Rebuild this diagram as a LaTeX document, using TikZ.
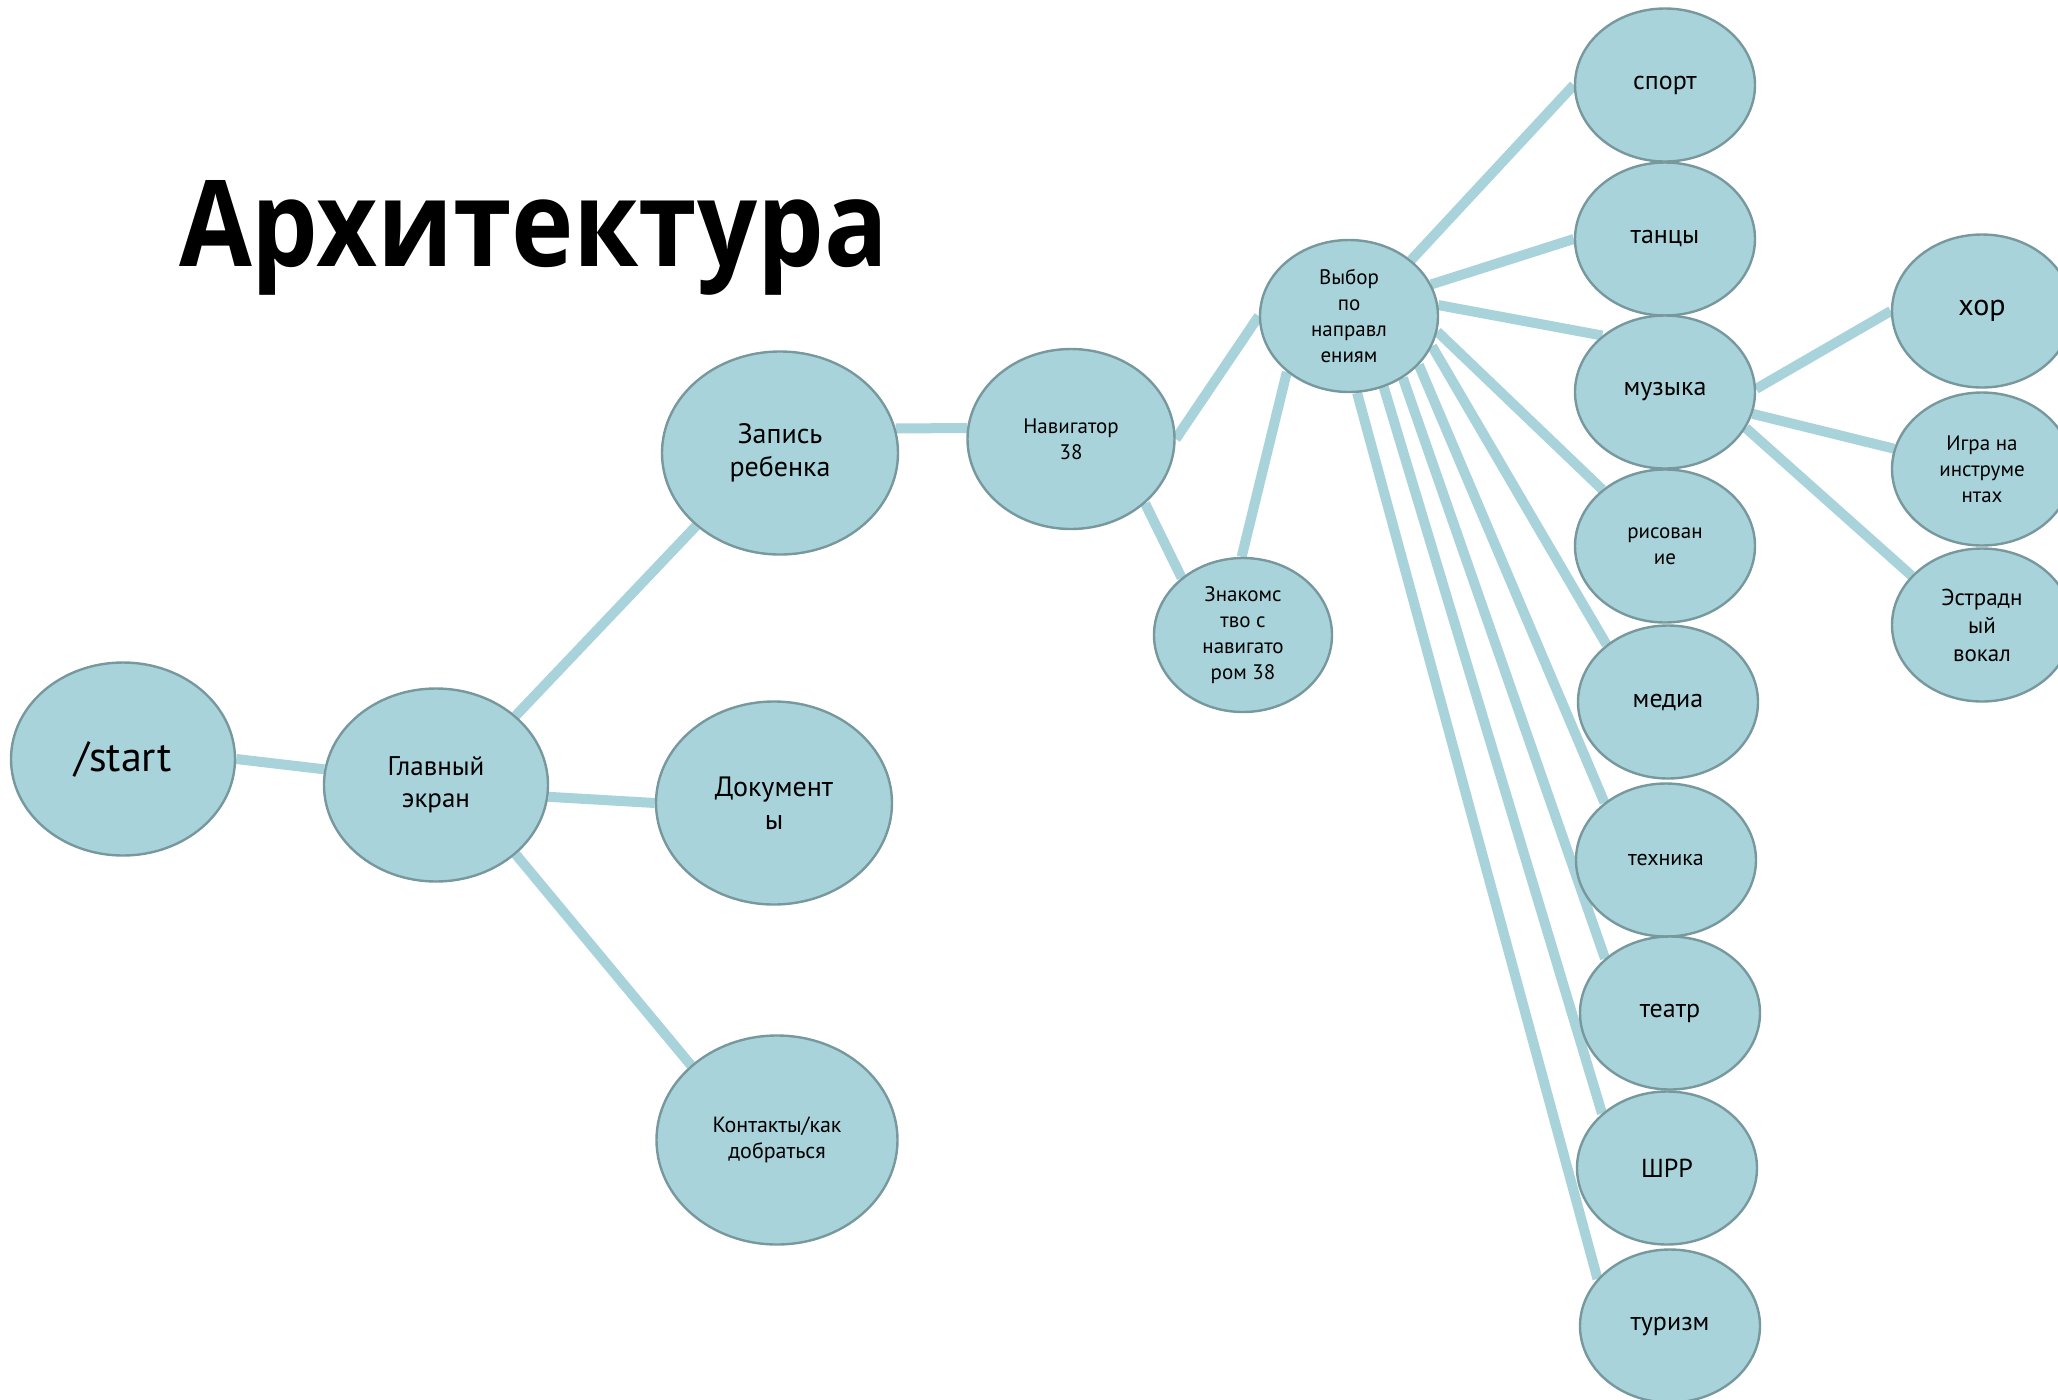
\documentclass[tikz,border=0pt]{standalone}
\usepackage{fontspec}
\setmainfont{PT Sans}
\newfontfamily\titlefont{Open Sans}
\usepackage{xcolor}
\usetikzlibrary{shapes.geometric}
\definecolor{bubblefill}{HTML}{A9D3DA}
\definecolor{bubbleline}{HTML}{77989D}
\pgfdeclarelayer{background}
\pgfsetlayers{background,main}

\begin{document}
\begin{tikzpicture}[x=0.5pt, y=-0.5pt]
        \tikzset{bubble/.style={
        draw = bubbleline,
        fill = bubblefill,
        line width = 1.2pt,
        %
        ellipse,
        inner sep = 0pt,
        align = center,
        minimum width = #1,
    }}
        \tikzset{link/.style={
            line width = 5pt,
            bubblefill
        }}
        \useasboundingbox (0,0) rectangle (2058,1399);
        \node[anchor = base west, font = \titlefont\bfseries\fontsize{60}{60}\selectfont] (title) at (172,266) {\scalebox{0.88}[1]{Архитектура}};

        \begin{scope}
            \node[bubble = 112pt, minimum height = 96.5pt, font = \fontsize{21}{25}\selectfont] (start) at (123,759) {/start};
            \node[bubble = 112pt, minimum height = 96.5pt, font = \fontsize{13.5}{16}\selectfont] (main) at (436,785) {Главный\\экран};
            \node[bubble = 118pt, minimum height = 101.5pt, font = \fontsize{14}{16.5}\selectfont] (zapis) at (780,453) {Запись\\ребенка};
            \node[bubble = 118pt, minimum height = 101.5pt, font = \fontsize{14}{16.5}\selectfont] (docs) at (774,803) {Документ\\ы};
            \node[bubble = 120.5pt, minimum height = 104.5pt, font = \fontsize{11}{13}\selectfont] (contacts) at (777,1140) {Контакты/как\\добраться};
            \node[bubble = 103.5pt, minimum height = 90pt, font = \fontsize{10.5}{13}\selectfont] (nav) at (1071,439) {Навигатор\\38};
            \node[bubble = 89pt, minimum height = 77pt, font = \fontsize{10.5}{13}\selectfont] (znak) at (1243,635) {Знакомс\\тво с\\навигато\\ром 38};
            \node[bubble = 89pt, minimum height = 76pt, font = \fontsize{10.5}{13}\selectfont] (vybor) at (1349,316) {Выбор\\по\\направл\\ениям};
        \end{scope}

        \begin{scope}[every node/.append style = {bubble = 90pt, minimum height = 76.5pt, font = \fontsize{13}{15}\selectfont}]
            \node (sport) at (1665,85) {спорт};
            \node (tancy) at (1665,239) {танцы};
            \node (muzyka) at (1665,392) {музыка};
            \node[font = \fontsize{10.5}{13}\selectfont] (risovanie) at (1665,546) {рисован\\ие};
            \node (media) at (1668,702) {медиа};
            \node[font = \fontsize{11}{13}\selectfont] (tehnika) at (1666,860) {техника};
            \node (teatr) at (1670,1013) {театр};
            \node (shrr) at (1667,1168) {ШРР};
            \node (turizm) at (1670,1326) {туризм};
            \node[font = \fontsize{15}{17}\selectfont] (hor) at (1982,311) {хор};
            \node[font = \fontsize{10.5}{13}\selectfont] (igra) at (1982,469) {Игра на\\инструме\\нтах};
            \node[font = \fontsize{11.5}{14}\selectfont] (estrad) at (1982,625) {Эстрадн\\ый\\вокал};
        \end{scope}

        \begin{pgfonlayer}{background}
            \draw[link] (start.0) -- (main.172);
            \draw[link] (main.41) -- (zapis.221);
            \draw[link] (main.-6) -- (docs.180);
            \draw[link] (main.-41) -- (contacts.139);
            \draw[link] (zapis.12) -- (nav.174);
            \draw[link] (nav.0) -- (vybor.180);
            \draw[link] (nav.-41) -- (znak.137);
            \draw[link] (vybor.222) -- (znak.91);
            \draw[link] (vybor.42) -- (sport.180);
            \draw[link] (vybor.21) -- (tancy.180);
            \draw[link] (vybor.7) -- (muzyka.138);
            \draw[link] (vybor.-10) -- (risovanie.138);
            \draw[link] (vybor.-20) -- (media.137);
            \draw[link] (vybor.-35) -- (tehnika.137);
            \draw[link] (vybor.-49) -- (teatr.140);
            \draw[link] (vybor.-64) -- (shrr.140);
            \draw[link] (vybor.-84) -- (turizm.147);
            \draw[link] (muzyka.2) -- (hor.180);
            \draw[link] (muzyka.-14) -- (igra.167);
            \draw[link] (muzyka.-24) -- (estrad.145);
        \end{pgfonlayer}
    \end{tikzpicture}
\end{document}
